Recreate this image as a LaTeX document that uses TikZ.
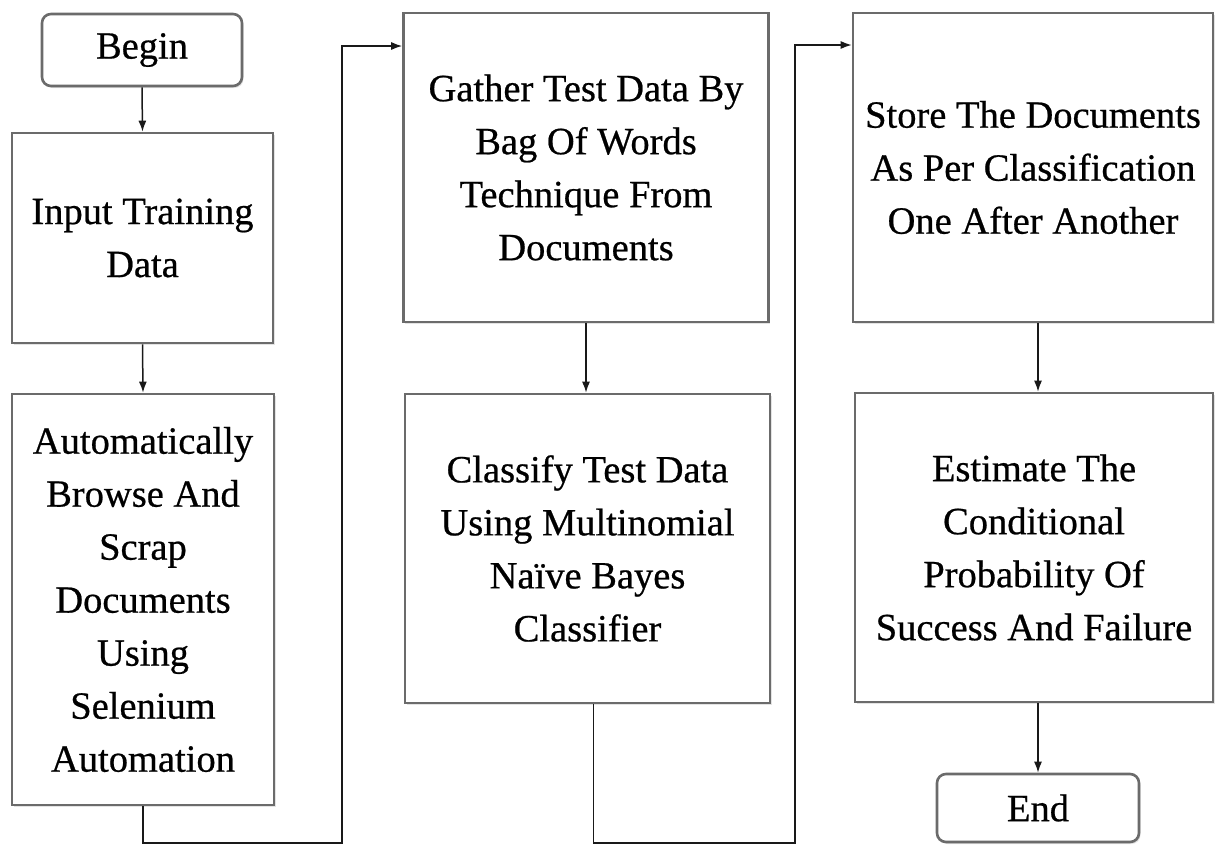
\documentclass[tikz,border=0pt]{standalone}
\usepackage{fontspec}
\setmainfont{Liberation Serif}[FakeBold=0.6]
\usetikzlibrary{arrows.meta,shadows}

\tikzset{
  stepbox/.style={draw=black!58, line width=2.6pt, fill=white,
    drop shadow={shadow xshift=1.5pt, shadow yshift=-2pt, opacity=0.22},
    align=center, inner sep=0pt,
    font=\fontsize{38.5}{53}\selectfont},
  termbox/.style={stepbox, rounded corners=9pt},
  flow/.style={draw=black!90, line width=1.5pt,
    -{Latex[length=11pt,width=8pt]}},
}

\begin{document}
\begin{tikzpicture}[x=1pt, y=-1pt]
  \useasboundingbox (0,0) rectangle (1215,844);

  % left column
  \node[termbox, minimum width=200pt, minimum height=72pt] (begin) at (142,50) {Begin};
  \node[stepbox, minimum width=261pt, minimum height=210pt] (input) at (142.5,238)
    {Input Training\\Data};
  \node[stepbox, minimum width=262pt, minimum height=411pt] (auto) at (143,599.5)
    {Automatically\\Browse And\\Scrap\\Documents\\Using\\Selenium\\Automation};

  % middle column
  \node[stepbox, minimum width=365pt, minimum height=309pt] (gather) at (586,167.5)
    {Gather Test Data By\\Bag Of Words\\Technique From\\Documents};
  \node[stepbox, minimum width=365pt, minimum height=309pt] (classify) at (587.5,548.5)
    {Classify Test Data\\Using Multinomial\\Naïve Bayes\\Classifier};

  % right column
  \node[stepbox, minimum width=360pt, minimum height=309pt] (store) at (1033,167.5)
    {Store The Documents\\As Per Classification\\One After Another};
  \node[stepbox, minimum width=358pt, minimum height=309pt] (estimate) at (1034,547.5)
    {Estimate The\\Conditional\\Probability Of\\Success And Failure};
  \node[termbox, minimum width=202pt, minimum height=68pt] (finish) at (1038,808) {End};

  % corner points of the two return connectors
  \coordinate (c1) at (342,843);
  \coordinate (c2) at (342,46);
  \coordinate (c3) at (795,843);
  \coordinate (c4) at (795,45);

  % connectors
  \draw[flow] (begin.south) -- (input.north);
  \draw[flow] (input.south) -- (auto.north);
  \draw[flow] (auto.south) |- (c1) -- (c2) -- (gather.west |- c2);
  \draw[flow] (gather.south) -- (classify.north -| gather.south);
  \draw[flow] ([xshift=6pt]classify.south) |- (c3) -- (c4) -- (store.west |- c4);
  \draw[flow] (store.south -| finish.north) -- (estimate.north -| finish.north);
  \draw[flow] (estimate.south -| finish.north) -- (finish.north);
\end{tikzpicture}
\end{document}
